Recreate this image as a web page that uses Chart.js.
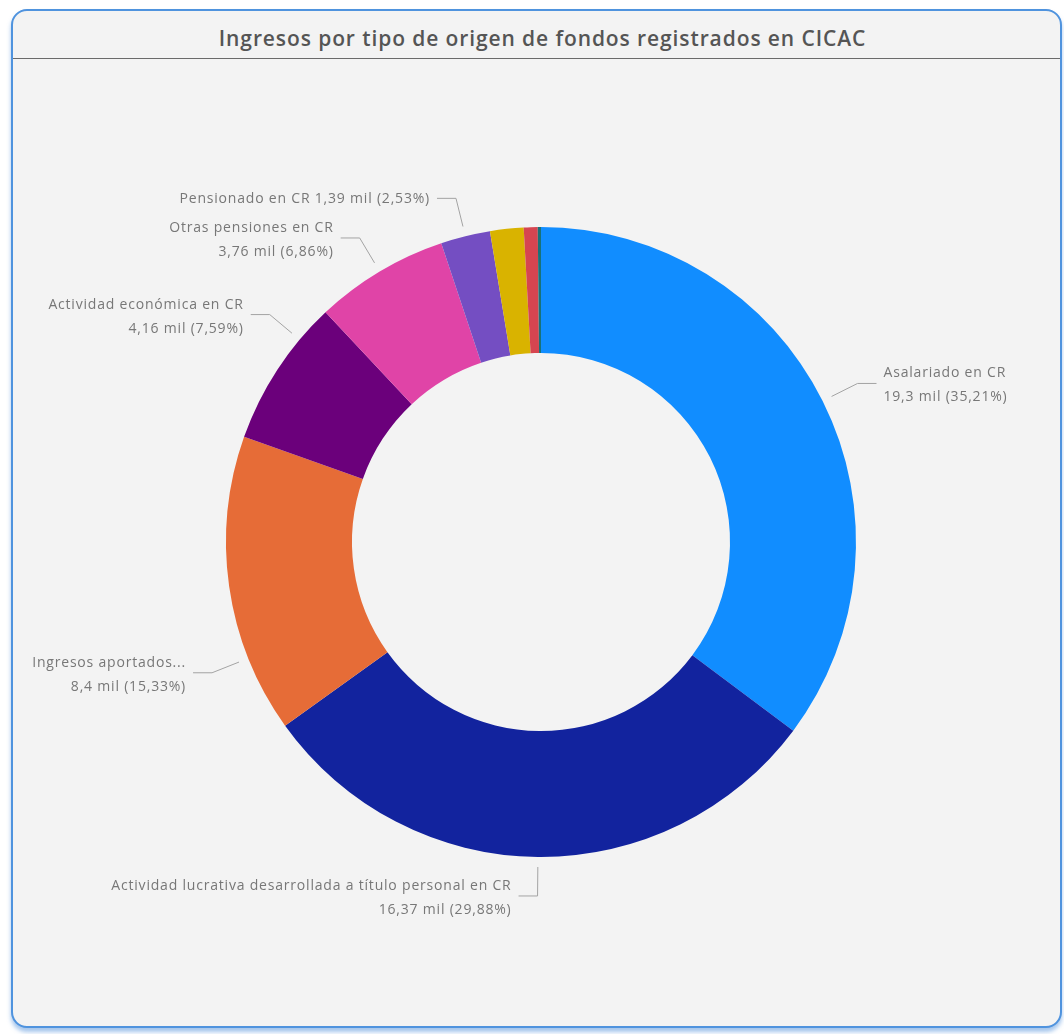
<!DOCTYPE html>
<html><head><meta charset="utf-8">
<script src="https://cdn.jsdelivr.net/npm/chart.js@4.4.1/dist/chart.umd.min.js"></script>
<style>
html,body{margin:0;padding:0;background:#fff;width:1064px;height:1034px;overflow:hidden;}
#card{position:absolute;left:11px;top:9px;width:1047px;height:1015px;border:2px solid #4f93de;border-radius:16px;background:#f3f3f3;box-shadow:0 4px 4px rgba(90,150,220,0.55);}
#title{position:absolute;left:12px;right:0;top:0;height:48px;font-family:'Open Sans',sans-serif;font-weight:600;font-size:21px;letter-spacing:0.9px;color:#555;text-align:center;line-height:54px;}
#sep{position:absolute;left:0;right:0;top:47px;height:0;border-bottom:1.5px solid #6a6a6a;}
#wrap{position:absolute;left:0;top:0;width:1064px;height:1034px;}
</style>
</head><body>
<div id="card"><div id="title">Ingresos por tipo de origen de fondos registrados en CICAC</div><div id="sep"></div></div>
<div id="wrap"><canvas id="c" width="1064" height="1034"></canvas></div>
<script>
const categories = ["Asalariado en CR","Actividad lucrativa desarrollada a título personal en CR","Ingresos aportados...","Actividad económica en CR","Otras pensiones en CR","Pensionado en CR","Otros ingresos","Ingresos del exterior","Sin especificar"];
const values = [19.3, 16.37, 8.4, 4.16, 3.76, 1.39, 0.94, 0.39, 0.09];
const pcts = [35.21, 29.88, 15.33, 7.59, 6.86, 2.53, 1.72, 0.72, 0.16];
const colors = ["#118DFF","#12239E","#E66C37","#6B007B","#E044A7","#744EC2","#D9B300","#D64550","#197278"];
const labelLines = [2, 2, 2, 2, 2, 1, 0, 0, 0];
const labelShiftDeg = [0, 0, -13.6, 6.8, 0, 0, 0, 0, 0];

function fmt(v){ return String(v).replace('.', ','); }

const leaderPlugin = {
  id:'leaders',
  afterDatasetsDraw(chart){
    const ctx = chart.ctx; const meta = chart.getDatasetMeta(0);
    meta.data.forEach((arc,i)=>{
      const lines = labelLines[i]; if(!lines) return;
      const p = arc.getProps(['x','y','startAngle','endAngle','outerRadius'], true);
      const a = (p.startAngle+p.endAngle)/2 + labelShiftDeg[i]*Math.PI/180;
      const r1 = p.outerRadius+10, r2 = p.outerRadius+39;
      const x1 = p.x+r1*Math.cos(a), y1 = p.y+r1*Math.sin(a);
      const x2 = p.x+r2*Math.cos(a), y2 = p.y+r2*Math.sin(a);
      const dir = Math.cos(a) >= 0 ? 1 : -1;
      const x3 = x2+dir*19;
      ctx.save();
      ctx.strokeStyle='#a3a3a3'; ctx.lineWidth=1;
      ctx.beginPath(); ctx.moveTo(x1,y1); ctx.lineTo(x2,y2); ctx.lineTo(x3,y2); ctx.stroke();
      ctx.fillStyle='#777'; ctx.font="14px 'Open Sans'";
      ctx.letterSpacing='0.8px';
      ctx.textAlign = dir>0 ? 'left' : 'right'; ctx.textBaseline='middle';
      const tx = x3+dir*7;
      const valueText = fmt(values[i])+' mil ('+fmt(pcts[i])+'%)';
      if(lines===1){ ctx.fillText(categories[i]+' '+valueText, tx, y2+1); }
      else { ctx.fillText(categories[i], tx, y2-10); ctx.fillText(valueText, tx, y2+14); }
      ctx.restore();
    });
  }
};

new Chart(document.getElementById('c'), {
  type:'doughnut',
  data:{ labels: categories, datasets:[{ data: values, backgroundColor: colors, borderWidth:0 }]},
  options:{
    responsive:false, devicePixelRatio:1, animation:false, cutout:'60%',
    layout:{ padding:{ left:226, right:208, top:227, bottom:177 } },
    plugins:{ legend:{display:false}, tooltip:{enabled:false} }
  },
  plugins:[leaderPlugin]
});
</script>
</body></html>
